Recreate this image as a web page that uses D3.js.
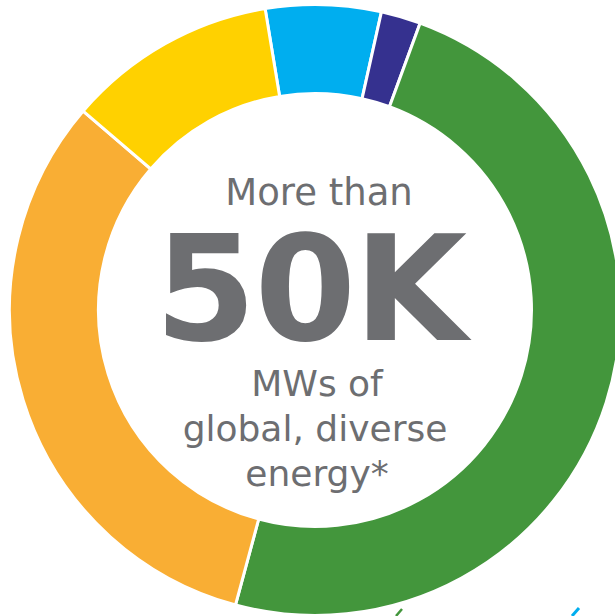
<!DOCTYPE html>
<html>
<head>
<meta charset="utf-8">
<script src="https://cdn.jsdelivr.net/npm/d3@7"></script>
<style>
  body { margin: 0; background: #fff; }
  svg { display: block; }
</style>
</head>
<body>
<div id="chart"></div>
<script>
// donut of generation mix, share of MW
const SEGMENTS = ["lightblue", "darkblue", "green", "orange", "yellow"];
const SHARES = [6.1, 2.1, 48.6, 32.1, 11.1];
const COLORS = ["#00aeef", "#35318f", "#43963c", "#f9ae34", "#ffd100"];

const CENTER_LINES = ["More than", "50K", "MWs of", "global, diverse", "energy*"];

const FRAME_WIDTH = 615;
const FRAME_HEIGHT = 616;
const CX = 315;
const CY = 310;
const OUTER = 305.5;
const INNER = 216.5;
const START = -9.4 * Math.PI / 180;

const FRAME = d3.select("#chart")
                .append("svg")
                  .attr("width", FRAME_WIDTH)
                  .attr("height", FRAME_HEIGHT);

const data = SEGMENTS.map((s, i) => ({name: s, value: SHARES[i], color: COLORS[i]}));

const pie = d3.pie()
              .sort(null)
              .value(d => d.value)
              .startAngle(START)
              .endAngle(START + 2 * Math.PI);

const arc = d3.arc()
              .innerRadius(INNER)
              .outerRadius(OUTER);

const ring = FRAME.append("g")
                  .attr("transform", "translate(" + CX + "," + CY + ")");

ring.selectAll(".slice")
    .data(pie(data))
    .enter().append("path")
      .attr("class", "slice")
      .attr("d", arc)
      .attr("fill", d => d.data.color)
      .attr("stroke", "#fff")
      .attr("stroke-width", 3);

// centre text
const TEXT_COLOR = "#6d6e71";
const FONT = "'DejaVu Sans', Verdana, sans-serif";

const labels = [
  {text: CENTER_LINES[0], x: 319, y: 205, size: 37, weight: "normal", ls: 0},
  {text: CENTER_LINES[1], x: 310, y: 340, size: 146, weight: "bold", ls: -2},
  {text: CENTER_LINES[2], x: 317, y: 396, size: 36, weight: "normal", ls: 0},
  {text: CENTER_LINES[3], x: 315, y: 441, size: 36, weight: "normal", ls: 0},
  {text: CENTER_LINES[4], x: 317, y: 486, size: 36, weight: "normal", ls: 0}
];

FRAME.selectAll(".center")
     .data(labels)
     .enter().append("text")
       .attr("class", "center")
       .attr("x", d => d.x)
       .attr("y", d => d.y)
       .attr("text-anchor", "middle")
       .attr("font-family", FONT)
       .attr("font-size", d => d.size)
       .attr("font-weight", d => d.weight)
       .attr("letter-spacing", d => d.ls)
       .attr("fill", TEXT_COLOR)
       .text(d => d.text);

// little marks peeking in at the bottom edge
FRAME.append("path")
     .attr("d", "M396,616 L402,609")
     .attr("stroke", "#43963c")
     .attr("stroke-width", 2.5);
FRAME.append("path")
     .attr("d", "M572,616 L579,608")
     .attr("stroke", "#00aeef")
     .attr("stroke-width", 3);
</script>
</body>
</html>
